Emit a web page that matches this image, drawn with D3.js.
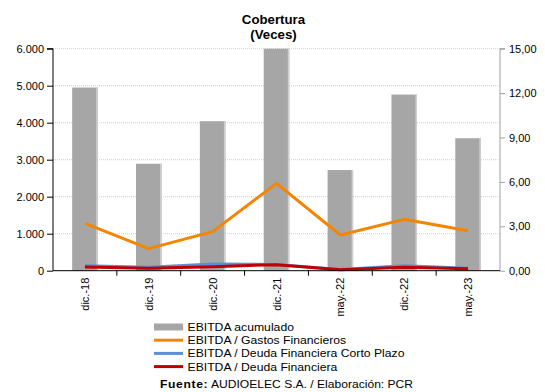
<!DOCTYPE html>
<html>
<head>
<meta charset="utf-8">
<script src="https://cdn.jsdelivr.net/npm/d3@7/dist/d3.min.js"></script>
<style>
  html, body { margin: 0; padding: 0; background: #fff; }
  svg { display: block; font-family: "Liberation Sans", Arial, sans-serif; }
</style>
</head>
<body>
<svg id="chart" width="545" height="392"></svg>
<script>
// Periods
const categories = ["dic.-18", "dic.-19", "dic.-20", "dic.-21", "may.-22", "dic.-22", "may.-23"];
// EBITDA acumulado (left axis)
const ebitdaAcumulado = [4950, 2890, 4040, 6000, 2720, 4760, 3580];
// Coverage ratios (right axis, veces)
const ebitdaGastosFin = [3.20, 1.49, 2.64, 5.90, 2.41, 3.47, 2.70];
const ebitdaDeudaCP = [0.34, 0.23, 0.45, 0.42, 0.08, 0.34, 0.16];
const ebitdaDeudaFin = [0.25, 0.16, 0.27, 0.41, 0.07, 0.23, 0.14];
// Axis ticks
const leftTicks = [0, 1000, 2000, 3000, 4000, 5000, 6000];
const rightTicks = [0, 3, 6, 9, 12, 15];

const legendItems = [
  { label: "EBITDA acumulado", type: "bar", color: "#a6a6a6" },
  { label: "EBITDA / Gastos Financieros", type: "line", color: "#f58400" },
  { label: "EBITDA / Deuda Financiera Corto Plazo", type: "line", color: "#5b8fd6" },
  { label: "EBITDA / Deuda Financiera", type: "line", color: "#c00000" }
];

const svg = d3.select("#chart");
const m = { left: 53, right: 500, top: 48.7, bottom: 270.7 };

const x = d3.scaleBand().domain(categories).range([m.left, m.right]).paddingInner(0.6).paddingOuter(0.3);
const xb = d3.scaleBand().domain(categories).range([m.left, m.right]);
const yL = d3.scaleLinear().domain([0, 6000]).range([m.bottom, m.top]);
const yR = d3.scaleLinear().domain([0, 15]).range([m.bottom, m.top]);

const fmtL = v => d3.format(",")(v).replace(/,/g, ".");
const fmtR = v => d3.format(".2f")(v).replace(".", ",");

// Title (text is drawn slightly widened)
const title = svg.append("g").attr("transform", "translate(273.5,0) scale(1.06,1)");
title.append("text").attr("y", 24).attr("text-anchor", "middle")
  .attr("font-size", 12.5).attr("font-weight", "bold").text("Cobertura");
title.append("text").attr("y", 39).attr("text-anchor", "middle")
  .attr("font-size", 12.5).attr("font-weight", "bold").text("(Veces)");

// Gridlines
svg.append("g").selectAll("line").data(leftTicks.filter(d => d > 0)).join("line")
  .attr("x1", m.left).attr("x2", m.right)
  .attr("y1", d => yL(d)).attr("y2", d => yL(d))
  .attr("stroke", "#d0d0d0").attr("stroke-width", 1).attr("stroke-dasharray", "1,1");

// Bars
const bars = svg.append("g");
bars.selectAll("rect.b").data(ebitdaAcumulado).join("rect").attr("class", "b")
  .attr("x", (d, i) => x(categories[i]))
  .attr("y", d => yL(d))
  .attr("width", x.bandwidth())
  .attr("height", d => yL(0) - yL(d))
  .attr("fill", "#a6a6a6");
bars.selectAll("rect.e").data(ebitdaAcumulado).join("rect").attr("class", "e")
  .attr("x", (d, i) => x(categories[i]) + x.bandwidth() - 1.5)
  .attr("y", d => yL(d))
  .attr("width", 1.5)
  .attr("height", d => yL(0) - yL(d))
  .attr("fill", "#cfcfcf");

// Lines
const line = d3.line().x((d, i) => x(categories[i]) + x.bandwidth() / 2).y(d => yR(d));
[[ebitdaGastosFin, "#f58400"], [ebitdaDeudaCP, "#5b8fd6"], [ebitdaDeudaFin, "#c00000"]]
  .forEach(([s, c]) => {
    svg.append("path").datum(s).attr("d", line).attr("fill", "none")
      .attr("stroke", c).attr("stroke-width", 3).attr("stroke-linejoin", "round");
  });

// Left axis
const gL = svg.append("g").attr("transform", `translate(${m.left},0)`)
  .call(d3.axisLeft(yL).tickValues(leftTicks).tickFormat(fmtL).tickSize(6).tickPadding(3));
gL.selectAll("path,line").attr("stroke", "#000");
gL.selectAll("text").attr("font-size", 11).attr("fill", "#000").attr("font-family", "Liberation Sans, Arial, sans-serif");
gL.select(".domain").attr("d", `M-6,${m.top}H0V${m.bottom}`);

// Right axis
const gR = svg.append("g").attr("transform", `translate(${m.right},0)`)
  .call(d3.axisRight(yR).tickValues(rightTicks).tickFormat(fmtR).tickSize(5).tickPadding(4));
gR.selectAll("path,line").attr("stroke", "#a0a0a0");
gR.selectAll("text").attr("font-size", 11).attr("fill", "#000").attr("font-family", "Liberation Sans, Arial, sans-serif");
gR.select(".domain").attr("d", `M5,${m.top}H0V${m.bottom}`);

// Bottom axis
const gB = svg.append("g").attr("transform", `translate(0,${m.bottom})`);
gB.append("line").attr("x1", m.left).attr("x2", m.right).attr("stroke", "#000");
gB.selectAll("line.t").data(categories.slice(1)).join("line").attr("class", "t")
  .attr("x1", d => xb(d)).attr("x2", d => xb(d)).attr("y1", 0).attr("y2", 5).attr("stroke", "#000");
gB.selectAll("text").data(categories).join("text")
  .attr("transform", d => `translate(${xb(d) + xb.bandwidth() / 2 + 4},7) rotate(-90)`)
  .attr("text-anchor", "end").attr("font-size", 11).text(d => d);

// Legend
const lg = svg.append("g");
legendItems.forEach((it, i) => {
  const cy = 327 + i * 13.2;
  if (it.type === "bar") {
    lg.append("rect").attr("x", 154).attr("y", cy - 3.5).attr("width", 29).attr("height", 7).attr("fill", it.color);
  } else {
    lg.append("line").attr("x1", 154).attr("x2", 183).attr("y1", cy).attr("y2", cy)
      .attr("stroke", it.color).attr("stroke-width", 3);
  }
  lg.append("text").attr("transform", `translate(187.5,${cy + 4}) scale(1.11,1)`)
    .attr("font-size", 11).text(it.label);
});

// Source note
const src = svg.append("text").attr("transform", "translate(160,388) scale(1.1,1)").attr("font-size", 11);
src.append("tspan").attr("font-weight", "bold").attr("letter-spacing", 0.6).text("Fuente:");
src.append("tspan").text(" AUDIOELEC S.A. / Elaboración: PCR");
</script>
</body>
</html>
